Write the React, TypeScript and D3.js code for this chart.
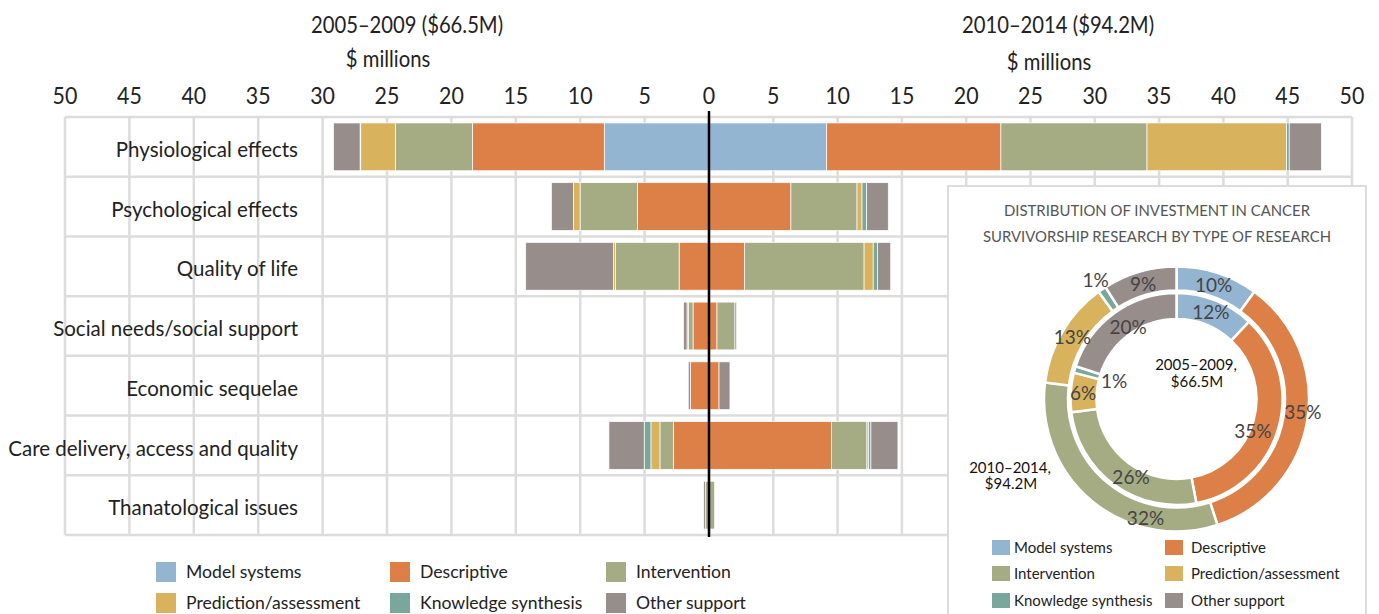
import React from "react";
import * as d3 from "d3";

const categories = [
  "Physiological effects",
  "Psychological effects",
  "Quality of life",
  "Social needs/social support",
  "Economic sequelae",
  "Care delivery, access and quality",
  "Thanatological issues",
];

const typeNames = [
  "Model systems",
  "Descriptive",
  "Intervention",
  "Prediction/assessment",
  "Knowledge synthesis",
  "Other support",
];
const typeKeys = ["model", "descriptive", "intervention", "prediction", "knowledge", "other"];
const typeColors = ["#94b5d2", "#dd8047", "#a5ab82", "#d8b25c", "#7aa79b", "#978d8b"];

// 2005–2009 ($ millions), left side
const model2005 = [8.13, 0, 0, 0, 0, 0, 0];
const descriptive2005 = [10.24, 5.55, 2.32, 1.24, 1.45, 2.77, 0];
const intervention2005 = [5.96, 4.46, 4.95, 0.37, 0, 1.04, 0.26];
const prediction2005 = [2.71, 0.52, 0.15, 0.1, 0, 0.7, 0];
const knowledge2005 = [0.05, 0, 0, 0, 0, 0.52, 0];
const other2005 = [2.06, 1.7, 6.81, 0.26, 0.16, 2.74, 0.15];

// 2010–2014 ($ millions), right side
const model2010 = [9.15, 0, 0, 0, 0, 0, 0];
const descriptive2010 = [13.55, 6.37, 2.75, 0.62, 0.78, 9.53, 0];
const intervention2010 = [11.36, 5.14, 9.31, 1.4, 0, 2.75, 0.44];
const prediction2010 = [10.86, 0.39, 0.71, 0, 0, 0.13, 0];
const knowledge2010 = [0.2, 0.36, 0.33, 0, 0, 0.18, 0];
const other2010 = [2.5, 1.68, 1.03, 0.13, 0.85, 2.1, 0];

// donut percentages
const donut2005 = [12, 35, 26, 6, 1, 20];
const donut2010 = [10, 35, 32, 13, 1, 9];

const tickValues = [0, 5, 10, 15, 20, 25, 30, 35, 40, 45, 50];

const leftTitle = "2005–2009 ($66.5M)";
const rightTitle = "2010–2014 ($94.2M)";
const axisUnit = "$ millions";
const donutTitle = ["DISTRIBUTION OF INVESTMENT IN CANCER", "SURVIVORSHIP RESEARCH BY TYPE OF RESEARCH"];
const innerLabel = ["2005–2009,", "$66.5M"];
const outerLabel = ["2010–2014,", "$94.2M"];

// label placement tweaks (styling)
const outerLabelR = [120, 127, 123, 121, 144, 119.5];
const outerLabelShift = [0, -3, -25, 0, 0, 0];
const innerLabelR = [93.5, 83, 91, 93.6, 65, 86.5];
const innerLabelShift = [0, 7, -6, 0, 0, 2];

function buildRows(arrs: number[][]) {
  return categories.map((c, i) => {
    const o: any = { category: c };
    typeKeys.forEach((k, j) => (o[k] = arrs[j][i]));
    return o;
  });
}

const rows2005 = buildRows([model2005, descriptive2005, intervention2005, prediction2005, knowledge2005, other2005]);
const rows2010 = buildRows([model2010, descriptive2010, intervention2010, prediction2010, knowledge2010, other2010]);

const FONT = "Lato, 'Noto Sans', sans-serif";

function CText(props: { x: number; y: number; sx: number; size: number; children: any; sy?: number }) {
  const { x, y, sx, size, children, sy = 1 } = props;
  return (
    <text transform={`translate(${x},${y}) scale(${sx},${sy})`} fontSize={size} textAnchor="middle">
      {children}
    </text>
  );
}

export default function App() {
  const W = 1379, H = 614;
  const plotTop = 117, plotBottom = 535;
  const x0 = 709;
  const xL = d3.scaleLinear().domain([0, 50]).range([x0, 65]);
  const xR = d3.scaleLinear().domain([0, 50]).range([x0, 1352]);
  const y = d3.scaleBand<string>().domain(categories).range([plotTop, plotBottom]).paddingInner(0.2).paddingOuter(0.1);
  const step = y.step();

  const stack = d3.stack<any>().keys(typeKeys);
  const s2005 = stack(rows2005);
  const s2010 = stack(rows2010);

  const cx = 1176.5, cy = 399;
  const pie = d3.pie<number>().sort(null).value((d) => d);
  const innerArc = d3.arc<any>().innerRadius(80).outerRadius(106);
  const outerArc = d3.arc<any>().innerRadius(108.5).outerRadius(132.5);
  const pInner = pie(donut2005);
  const pOuter = pie(donut2010);

  const labelPos = (d: any, r: number, shiftDeg: number) => {
    const a = (d.startAngle + d.endAngle) / 2 + (shiftDeg * Math.PI) / 180;
    return [r * Math.sin(a), -r * Math.cos(a)];
  };

  const hLines = d3.range(categories.length + 1).map((i) => plotTop + i * step);

  const legendMain = typeNames.map((n, i) => ({ n, c: typeColors[i], col: i % 3, row: Math.floor(i / 3) }));
  const mainCols = [156, 390, 606];
  const mainRows = [562, 593];
  const donutCols = [992, 1165];
  const donutRows = [540, 566, 593];

  return (
    <svg width={W} height={H} style={{ position: "absolute", left: 0, top: 0, background: "#fff" }}>
      {/* titles */}
      <g fontFamily={FONT} fill="#222">
        <CText x={407} y={33} sx={0.9} size={22.5}>{leftTitle}</CText>
        <CText x={388} y={67} sx={0.9} size={22.5}>{axisUnit}</CText>
        <CText x={1058} y={33} sx={0.9} size={22.5}>{rightTitle}</CText>
        <CText x={1049} y={70} sx={0.9} size={22.5}>{axisUnit}</CText>
      </g>
      {/* ticks */}
      <g fontFamily={FONT} fill="#222">
        {tickValues.filter((t) => t > 0).map((t) => (
          <CText key={"l" + t} x={xL(t)} y={104} sx={0.93} size={23}>{t}</CText>
        ))}
        {tickValues.map((t) => (
          <CText key={"r" + t} x={xR(t)} y={104} sx={0.93} size={23}>{t}</CText>
        ))}
      </g>
      {/* grid */}
      <g stroke="#dcdcdc" strokeWidth={2.5}>
        {tickValues.map((t) => (
          <line key={"gl" + t} x1={xL(t)} x2={xL(t)} y1={plotTop} y2={plotBottom} />
        ))}
        {tickValues.map((t) => (
          <line key={"gr" + t} x1={xR(t)} x2={xR(t)} y1={plotTop} y2={plotBottom} />
        ))}
        {hLines.map((yy, i) => (
          <line key={"h" + i} x1={xL(50)} x2={xR(50)} y1={yy} y2={yy} />
        ))}
      </g>
      {/* bars */}
      <g>
        {s2005.map((ser, si) =>
          ser.map((d: any, i: number) =>
            d[1] - d[0] > 0 ? (
              <rect key={"a" + si + "-" + i} x={xL(d[1])} width={xL(d[0]) - xL(d[1])} y={y(categories[i])} height={y.bandwidth()}
                fill={typeColors[si]} stroke="#fff" strokeWidth={0.7} />
            ) : null
          )
        )}
        {s2010.map((ser, si) =>
          ser.map((d: any, i: number) =>
            d[1] - d[0] > 0 ? (
              <rect key={"b" + si + "-" + i} x={xR(d[0])} width={xR(d[1]) - xR(d[0])} y={y(categories[i])} height={y.bandwidth()}
                fill={typeColors[si]} stroke="#fff" strokeWidth={0.7} />
            ) : null
          )
        )}
      </g>
      {/* category labels */}
      <g fontFamily={FONT} fontSize={20.5} fill="#222" textAnchor="end">
        {categories.map((c) => (
          <text key={c} x={298} y={(y(c) as number) + y.bandwidth() / 2 + 3} dy="0.35em">{c}</text>
        ))}
      </g>
      {/* zero line */}
      <line x1={x0} x2={x0} y1={111} y2={537} stroke="#000" strokeWidth={2.5} />

      {/* main legend */}
      <g fontFamily={FONT} fontSize={17.6} fill="#222">
        {legendMain.map((l) => (
          <g key={l.n} transform={`translate(${mainCols[l.col]},${mainRows[l.row]})`}>
            <rect width={20} height={20} fill={l.c} />
            <text x={30} y={16}>{l.n}</text>
          </g>
        ))}
      </g>

      {/* donut box */}
      <rect x={948} y={186} width={418} height={460} fill="#fff" stroke="#dcdcdc" strokeWidth={2} />
      <g fontFamily={FONT} fontSize={14.9} fill="#555" textAnchor="middle">
        <text x={1157} y={216}>{donutTitle[0]}</text>
        <text x={1157} y={242}>{donutTitle[1]}</text>
      </g>
      <g transform={`translate(${cx},${cy})`}>
        {pOuter.map((d, i) => (
          <path key={"o" + i} d={outerArc(d) as string} fill={typeColors[i]} stroke="#fff" strokeWidth={2.5} />
        ))}
        {pInner.map((d, i) => (
          <path key={"i" + i} d={innerArc(d) as string} fill={typeColors[i]} stroke="#fff" strokeWidth={2.5} />
        ))}
        <g fontFamily={FONT} fontSize={19} fill="#444" textAnchor="middle">
          {pOuter.map((d, i) => {
            const [lx, ly] = labelPos(d, outerLabelR[i], outerLabelShift[i]);
            return <text key={"ol" + i} x={lx} y={ly} dy="0.35em">{d.data}%</text>;
          })}
          {pInner.map((d, i) => {
            const [lx, ly] = labelPos(d, innerLabelR[i], innerLabelShift[i]);
            return <text key={"il" + i} x={lx} y={ly} dy="0.35em">{d.data}%</text>;
          })}
        </g>
      </g>
      <g fontFamily={FONT} fontSize={15} fill="#111" textAnchor="middle">
        <text x={1196} y={370}>{innerLabel[0]}</text>
        <text x={1197} y={387}>{innerLabel[1]}</text>
        <text x={1010} y={473}>{outerLabel[0]}</text>
        <text x={1011} y={489}>{outerLabel[1]}</text>
      </g>
      {/* donut legend */}
      <g fontFamily={FONT} fontSize={15} fill="#222">
        {typeNames.map((n, i) => (
          <g key={"dl" + n} transform={`translate(${donutCols[i % 2]},${donutRows[Math.floor(i / 2)]})`}>
            <rect width={18} height={15} fill={typeColors[i]} />
            <text x={i % 2 === 0 ? 22 : 26} y={13}>{n}</text>
          </g>
        ))}
      </g>
    </svg>
  );
}
